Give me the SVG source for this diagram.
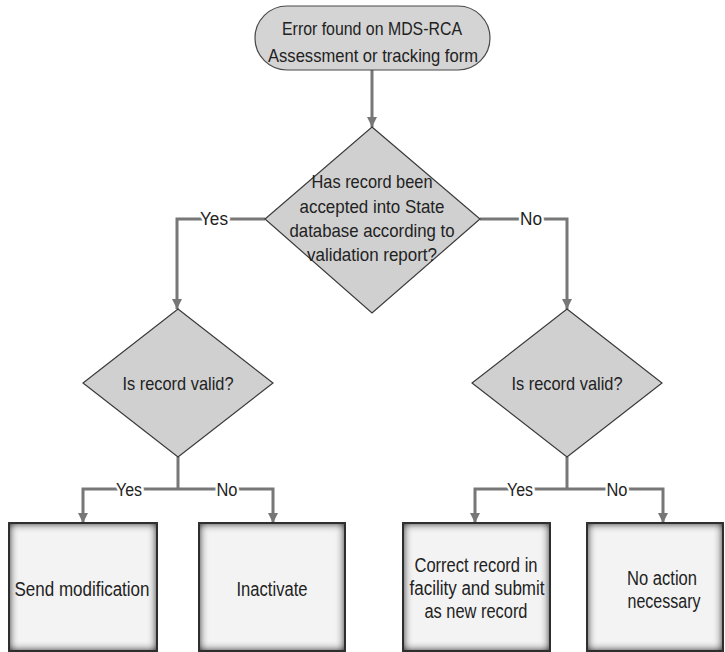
<svg xmlns="http://www.w3.org/2000/svg" width="725" height="652" viewBox="0 0 725 652">
<style>
  .t { font-family: "Liberation Sans", Arial, sans-serif; font-size: 18.5px; fill: #222; text-anchor: middle; }
  .b { font-size: 20px; }
  .lbl { font-family: "Liberation Sans", Arial, sans-serif; font-size: 17.5px; fill: #222; text-anchor: middle; stroke: #fff; stroke-width: 5px; paint-order: stroke; }
  .con { fill: none; stroke: #777; stroke-width: 3; }
  .dia { fill: #d0d0d0; stroke: #3a3a3a; stroke-width: 1.2; }
  .box { fill: #f3f3f3; stroke: #2e2e2e; stroke-width: 2; filter: url(#inset); }
</style>
<defs>
  <marker id="arr" viewBox="0 0 10 10" refX="10" refY="5" markerWidth="11" markerHeight="10" markerUnits="userSpaceOnUse" orient="auto">
    <path d="M0,0 L10,5 L0,10 z" fill="#777"/>
  </marker>
  <filter id="inset" x="-5%" y="-5%" width="110%" height="110%">
    <feGaussianBlur in="SourceAlpha" stdDeviation="5" result="b"/>
    <feComposite in="SourceAlpha" in2="b" operator="arithmetic" k2="1" k3="-1" result="edge"/>
    <feFlood flood-color="#333" result="c"/>
    <feComposite in="c" in2="edge" operator="in" result="sh"/>
    <feMerge><feMergeNode in="SourceGraphic"/><feMergeNode in="sh"/><feMergeNode in="sh"/><feMergeNode in="sh"/></feMerge>
  </filter>
</defs>
<rect width="725" height="652" fill="#fff"/>

<g id="connectors">
  <path class="con" d="M372,70 V127" marker-end="url(#arr)"/>
  <path class="con" d="M265,219 H177 V309" marker-end="url(#arr)"/>
  <path class="con" d="M480,219 H567 V309" marker-end="url(#arr)"/>
  <path class="con" d="M178,457 V489"/>
  <path class="con" d="M178,489 H83 V523" marker-end="url(#arr)"/>
  <path class="con" d="M178,489 H273 V523" marker-end="url(#arr)"/>
  <path class="con" d="M567,457 V489"/>
  <path class="con" d="M567,489 H475 V523" marker-end="url(#arr)"/>
  <path class="con" d="M567,489 H663 V523" marker-end="url(#arr)"/>
  <text class="lbl" x="214" y="225" textLength="28" lengthAdjust="spacingAndGlyphs">Yes</text>
  <text class="lbl" x="531" y="225" textLength="22" lengthAdjust="spacingAndGlyphs">No</text>
  <text class="lbl" x="129" y="496" textLength="26" lengthAdjust="spacingAndGlyphs">Yes</text>
  <text class="lbl" x="227" y="496" textLength="21" lengthAdjust="spacingAndGlyphs">No</text>
  <text class="lbl" x="520" y="496" textLength="26" lengthAdjust="spacingAndGlyphs">Yes</text>
  <text class="lbl" x="617" y="496" textLength="21" lengthAdjust="spacingAndGlyphs">No</text>
</g>

<g id="start">
  <rect x="255" y="6" width="235" height="64" rx="32" ry="32" fill="#d4d4d4" stroke="#4a4a4a" stroke-width="1.2"/>
  <text class="t" x="372" y="35" textLength="180" lengthAdjust="spacingAndGlyphs">Error found on MDS-RCA</text>
  <text class="t" x="373" y="62" textLength="210" lengthAdjust="spacingAndGlyphs">Assessment or tracking form</text>
</g>

<g id="accepted">
  <polygon class="dia" points="372,127 480,219 372,313 265,219"/>
  <text class="t" x="372" y="188" textLength="121" lengthAdjust="spacingAndGlyphs">Has record been</text>
  <text class="t" x="372" y="213" textLength="145" lengthAdjust="spacingAndGlyphs">accepted into State</text>
  <text class="t" x="372" y="237" textLength="165" lengthAdjust="spacingAndGlyphs">database according to</text>
  <text class="t" x="372" y="261" textLength="130" lengthAdjust="spacingAndGlyphs">validation report?</text>
</g>

<g id="valid-left">
  <polygon class="dia" points="178,309 273,383 178,457 83,383"/>
  <text class="t" x="178" y="390" textLength="111" lengthAdjust="spacingAndGlyphs">Is record valid?</text>
</g>

<g id="valid-right">
  <polygon class="dia" points="567,309 662,383 567,457 472,383"/>
  <text class="t" x="567" y="390" textLength="111" lengthAdjust="spacingAndGlyphs">Is record valid?</text>
</g>

<g id="send-mod">
  <rect class="box" x="9" y="523" width="148" height="128"/>
  <text class="t b" x="82" y="596" textLength="135" lengthAdjust="spacingAndGlyphs">Send modification</text>
</g>

<g id="inactivate">
  <rect class="box" x="199" y="523" width="146" height="128"/>
  <text class="t b" x="272" y="596" textLength="71" lengthAdjust="spacingAndGlyphs">Inactivate</text>
</g>

<g id="correct">
  <rect class="box" x="403" y="523" width="147" height="128"/>
  <text class="t b" x="476" y="572" textLength="123" lengthAdjust="spacingAndGlyphs">Correct record in</text>
  <text class="t b" x="477" y="595" textLength="135" lengthAdjust="spacingAndGlyphs">facility and submit</text>
  <text class="t b" x="476" y="618" textLength="103" lengthAdjust="spacingAndGlyphs">as new record</text>
</g>

<g id="no-action">
  <rect class="box" x="587" y="523" width="136" height="128"/>
  <text class="t b" x="662" y="585" textLength="70" lengthAdjust="spacingAndGlyphs">No action</text>
  <text class="t b" x="664" y="608" textLength="73" lengthAdjust="spacingAndGlyphs">necessary</text>
</g>
</svg>
